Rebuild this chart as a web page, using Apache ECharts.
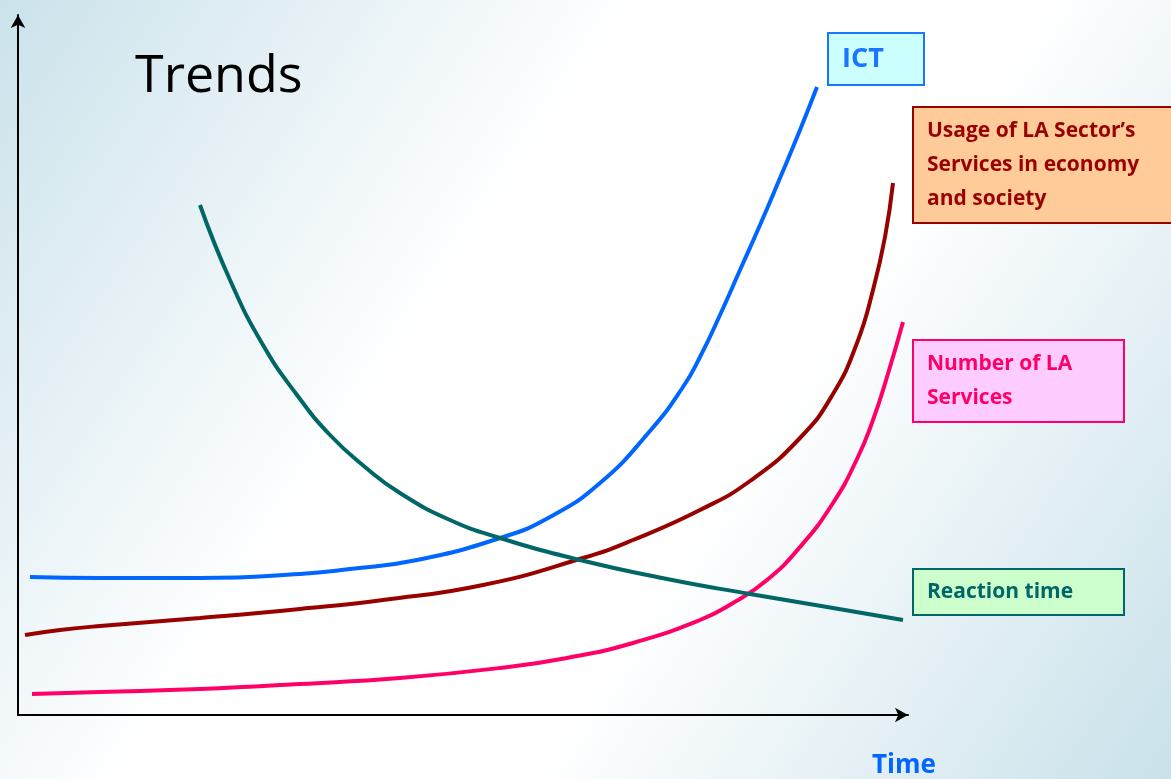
<!DOCTYPE html>
<html>
<head>
<meta charset="utf-8">
<script src="https://cdn.jsdelivr.net/npm/echarts@6/dist/echarts.min.js"></script>
<style>
  html, body { margin: 0; padding: 0; }
  #chart { width: 1171px; height: 779px; }
</style>
</head>
<body>
<div id="chart"></div>
<script>
// time axis runs 0..890, level axis 0..700 (no ticks shown)
const ictX = [12, 82, 182, 282, 332, 399, 482, 532, 582, 632, 665, 682, 702, 722, 742, 762, 782, 799];
const ictY = [138, 137, 137, 141, 146, 155, 177, 198, 232, 284, 328, 358, 400, 445, 490, 537, 585, 628];

const usageX = [7, 42, 82, 182, 282, 365, 465, 565, 615, 682, 732, 782, 815, 839, 855, 867, 875];
const usageY = [80, 85, 89, 97, 106, 115, 130, 157, 175, 205, 234, 277, 321, 372, 425, 478, 532];

const numberX = [14, 82, 182, 282, 382, 482, 549, 615, 682, 715, 749, 782, 815, 839, 855, 869, 885];
const numberY = [21, 23, 26, 31, 37, 47, 57, 72, 95, 112, 135, 168, 212, 256, 295, 338, 393];

const reactionX = [182, 212, 245, 279, 312, 347, 382, 432, 482, 562, 649, 732, 815, 885];
const reactionY = [510, 435, 370, 320, 280, 248, 222, 195, 177, 155, 136, 121, 107, 95];

const zip = (xs, ys) => xs.map((x, i) => [x, ys[i]]);

const chart = echarts.init(document.getElementById("chart"));

const font = "'Open Sans', 'Noto Sans', sans-serif";

function box(text, left, top, color, bg, w, pad, size) {
  return {
    text: text,
    left: left,
    top: top,
    backgroundColor: bg,
    borderColor: color,
    borderWidth: 2,
    padding: pad,
    textStyle: {
      color: color,
      fontFamily: font,
      fontWeight: "bold",
      fontSize: size || 21,
      lineHeight: size ? 36 : 34,
      width: w,
    },
  };
}

let option = {
  backgroundColor: {
    type: "linear",
    x: 0, y: 0, x2: 1, y2: 1,
    colorStops: [
      { offset: 0, color: "#cbe2eb" },
      { offset: 0.38, color: "#ffffff" },
      { offset: 0.62, color: "#ffffff" },
      { offset: 1, color: "#c9e1ea" },
    ],
  },
  animation: false,
  title: [
    {
      text: "Trends",
      left: 135,
      top: 51,
      padding: 0,
      textStyle: { color: "#000", fontFamily: font, fontWeight: "normal", fontSize: 52 },
    },
    box("ICT", 828, 33, "#1a75ff", "#ccffff", 68, [8, 14, 8, 14], 27),
    box("Usage of LA Sector’s\nServices in economy\nand society", 913, 107, "#990000", "#ffcc99", 250, [7, 14, 7, 14]),
    box("Number of LA\nServices", 913, 340, "#ff0066", "#ffccff", 183, [7, 14, 7, 14]),
    box("Reaction time", 913, 569, "#006666", "#ccffcc", 183, [6, 14, 6, 14]),
    {
      text: "Time",
      left: 872,
      top: 753,
      padding: 0,
      textStyle: { color: "#0066ff", fontFamily: font, fontWeight: "bold", fontSize: 26 },
    },
  ],
  grid: {
    left: 18,
    right: 263,
    top: 15,
    bottom: 64,
  },
  xAxis: {
    type: "value",
    min: 0,
    max: 890,
    axisLine: {
      show: true,
      onZero: false,
      symbol: ["none", "arrow"],
      symbolSize: [11, 13],
      lineStyle: { color: "#000", width: 2 },
    },
    axisTick: { show: false },
    axisLabel: { show: false },
    splitLine: { show: false },
  },
  yAxis: {
    type: "value",
    min: 0,
    max: 700,
    axisLine: {
      show: true,
      onZero: false,
      symbol: ["none", "arrow"],
      symbolSize: [11, 13],
      lineStyle: { color: "#000", width: 2 },
    },
    axisTick: { show: false },
    axisLabel: { show: false },
    splitLine: { show: false },
  },
  series: [
    { name: "ICT", data: zip(ictX, ictY), color: "#0066ff" },
    { name: "Usage", data: zip(usageX, usageY), color: "#990000" },
    { name: "Number", data: zip(numberX, numberY), color: "#ff0066" },
    { name: "Reaction", data: zip(reactionX, reactionY), color: "#006666" },
  ].map((s) => ({
    name: s.name,
    type: "line",
    data: s.data,
    smooth: 0.5,
    showSymbol: false,
    lineStyle: { color: s.color, width: 4 },
  })),
};
chart.setOption(option);
window.addEventListener("resize", () => {
  chart && chart.resize();
});
</script>
</body>
</html>
